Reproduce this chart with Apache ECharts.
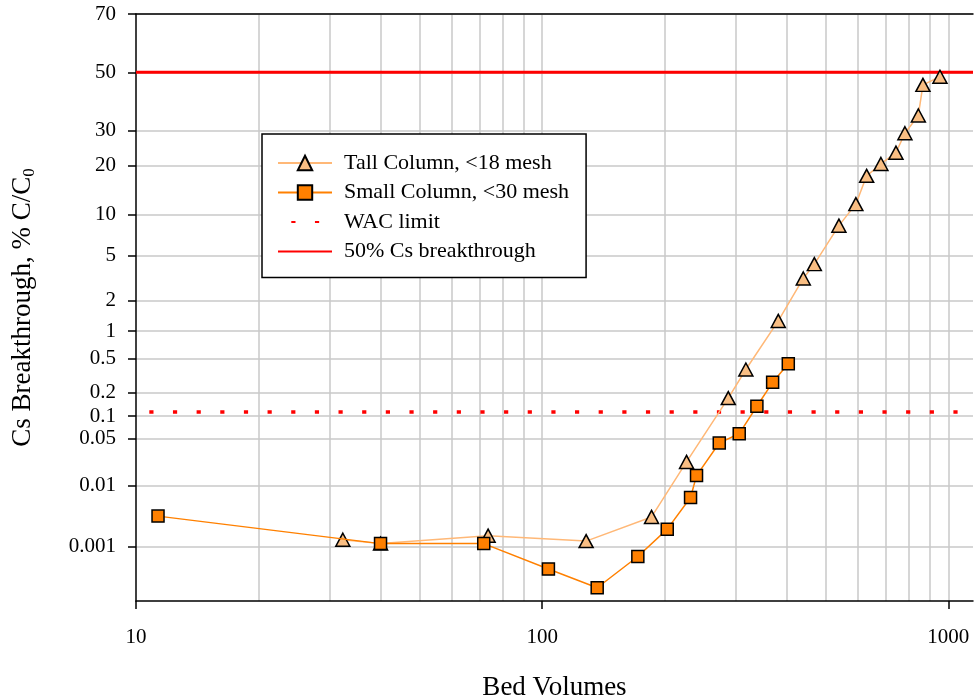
<!DOCTYPE html>
<html><head><meta charset="utf-8">
<script src="https://cdn.jsdelivr.net/npm/echarts@6/dist/echarts.min.js"></script>
<style>html,body{margin:0;padding:0;background:#fff}#c{width:974px;height:700px}</style>
</head><body><div id="c"></div>
<script>
// ---- data (bed volumes, % C/C0) ----
const tallX = [32.3, 40.0, 73.6, 128.3, 185.9, 226.7, 287.2, 317.3, 381.3, 439.4, 467.8, 537.7, 592.0, 629.3, 682.3, 743.0, 781.8, 843.6, 865.8, 953.5];
const tallY = [0.00132, 0.00113, 0.00155, 0.00125, 0.0032, 0.023, 0.17, 0.377, 1.27, 3.19, 4.23, 8.4, 11.8, 17.6, 20.5, 23.5, 29.2, 34.9, 45.5, 48.4];
const smallX = [11.33, 40.0, 71.8, 103.6, 136.6, 172.0, 203.2, 231.9, 239.9, 272.9, 305.6, 337.8, 369.3, 403.6];
const smallY = [0.0033, 0.00113, 0.00113, 0.000398, 0.000179, 0.00067, 0.0020, 0.0066, 0.0144, 0.043, 0.058, 0.134, 0.266, 0.44];
const wacLimit = 0.113;
const breakthrough = 50;
const xRange = [10, 1150];
const yRange = [0.0001, 70];
const xTickValues = [10, 100, 1000];
const xGridValues = [20, 30, 40, 50, 60, 70, 80, 90, 100, 200, 300, 400, 500, 600, 700, 800, 900, 1000];
const yTickValues = [70, 50, 30, 20, 10, 5, 2, 1, 0.5, 0.2, 0.1, 0.05, 0.01, 0.001];
const yTickLabels = ['70', '50', '30', '20', '10', '5', '2', '1', '0.5', '0.2', '0.1', '0.05', '0.01', '0.001'];
const names = ['Tall Column, <18 mesh', 'Small Column, <30 mesh', 'WAC limit', '50% Cs breakthrough'];

// ---- scale transforms: log10 for x, normal probability (probit) for y ----
function probit(p) {
  const a = [-3.969683028665376e+01, 2.209460984245205e+02, -2.759285104469687e+02, 1.383577518672690e+02, -3.066479806614716e+01, 2.506628277459239e+00];
  const b = [-5.447609879822406e+01, 1.615858368580409e+02, -1.556989798598866e+02, 6.680131188771972e+01, -1.328068155288572e+01];
  const c = [-7.784894002430293e-03, -3.223964580411365e-01, -2.400758277161838e+00, -2.549732539343734e+00, 4.374664141464968e+00, 2.938163982698783e+00];
  const d = [7.784695709041462e-03, 3.224671290700398e-01, 2.445134137142996e+00, 3.754408661907416e+00];
  const pl = 0.02425, ph = 1 - pl;
  let q, r;
  if (p < pl) { q = Math.sqrt(-2 * Math.log(p)); return (((((c[0]*q+c[1])*q+c[2])*q+c[3])*q+c[4])*q+c[5]) / ((((d[0]*q+d[1])*q+d[2])*q+d[3])*q+1); }
  if (p <= ph) { q = p - 0.5; r = q*q; return (((((a[0]*r+a[1])*r+a[2])*r+a[3])*r+a[4])*r+a[5])*q / (((((b[0]*r+b[1])*r+b[2])*r+b[3])*r+b[4])*r+1); }
  q = Math.sqrt(-2 * Math.log(1 - p)); return -(((((c[0]*q+c[1])*q+c[2])*q+c[3])*q+c[4])*q+c[5]) / ((((d[0]*q+d[1])*q+d[2])*q+d[3])*q+1);
}
const tx = v => Math.log10(v);
const ty = pct => probit(pct / 100);

const FONT = 'Liberation Serif';
const yTickZ = yTickValues.map(ty);
const axisBlack = { color: '#000', width: 1.5 };
const gridGray = { color: '#c8c8c8', width: 1.5 };

const chart = echarts.init(document.getElementById('c'), null, { renderer: 'canvas' });
chart.setOption({
  animation: false,
  backgroundColor: '#fff',
  grid: { left: 136, right: 1, top: 14, bottom: 99, outerBoundsMode: 'none', containLabel: false },
  legend: {
    orient: 'vertical', left: 262, top: 134,
    padding: [18, 17, 15, 15],
    itemWidth: 54, itemHeight: 18, itemGap: 7.5,
    backgroundColor: '#fff', borderColor: '#000', borderWidth: 1.5,
    textStyle: { fontFamily: FONT, fontSize: 22, color: '#000', padding: [0, 0, 0, 7] },
    data: [
      { name: names[0] },
      { name: names[1] },
      { name: names[2], itemStyle: { opacity: 0 } },
      { name: names[3], itemStyle: { opacity: 0 } }
    ]
  },
  xAxis: [{
    type: 'value', position: 'bottom', min: tx(xRange[0]), max: tx(xRange[1]),
    axisLine: { onZero: false, lineStyle: axisBlack },
    axisTick: { customValues: xTickValues.map(tx), length: 8, lineStyle: axisBlack },
    axisLabel: { customValues: xTickValues.map(tx), formatter: v => String(Math.round(Math.pow(10, v))), margin: 26, fontFamily: FONT, fontSize: 21, color: '#000' },
    splitLine: { show: false },
    name: 'Bed Volumes', nameLocation: 'middle', nameGap: 73,
    nameTextStyle: { fontFamily: FONT, fontSize: 27, color: '#000' }
  }, {
    type: 'value', position: 'top', min: tx(xRange[0]), max: tx(xRange[1]),
    axisLine: { show: true, onZero: false, lineStyle: axisBlack },
    axisTick: { show: false, customValues: xGridValues.map(tx) },
    axisLabel: { show: false },
    splitLine: { show: true, lineStyle: gridGray }
  }],
  yAxis: {
    type: 'value', min: ty(yRange[0]), max: ty(yRange[1]),
    axisLine: { show: true, onZero: false, lineStyle: axisBlack },
    axisTick: { customValues: yTickZ, length: 8, lineStyle: axisBlack },
    axisLabel: {
      customValues: yTickZ, margin: 20, fontFamily: FONT, fontSize: 21, color: '#000',
      formatter: v => { let best = 0; yTickZ.forEach((z, i) => { if (Math.abs(z - v) < Math.abs(yTickZ[best] - v)) best = i; }); return yTickLabels[best]; }
    },
    splitLine: { show: true, lineStyle: gridGray },
    name: 'Cs Breakthrough, % C/C{sub|0}', nameLocation: 'middle', nameRotate: 90, nameGap: 98,
    nameTextStyle: { fontFamily: FONT, fontSize: 27, color: '#000', lineHeight: 30,
      rich: { sub: { fontFamily: FONT, fontSize: 17, color: '#000', verticalAlign: 'bottom', lineHeight: 16 } } }
  },
  series: [{
    name: names[0], type: 'line', xAxisIndex: 0,
    data: tallX.map((x, i) => [tx(x), ty(tallY[i])]),
    symbol: 'triangle', symbolSize: [14, 13], showAllSymbol: true,
    lineStyle: { color: '#FFB877', width: 1.5 },
    itemStyle: { color: '#F9BE83', borderColor: '#000', borderWidth: 1.5 },
    z: 3
  }, {
    name: names[1], type: 'line', xAxisIndex: 0,
    data: smallX.map((x, i) => [tx(x), ty(smallY[i])]),
    symbol: 'rect', symbolSize: 12, showAllSymbol: true,
    lineStyle: { color: '#FF8000', width: 1.5 },
    itemStyle: { color: '#FF8000', borderColor: '#000', borderWidth: 1.5 },
    z: 4
  }, {
    name: names[2], type: 'line', xAxisIndex: 0,
    data: [[tx(xRange[0]), ty(wacLimit)], [tx(xRange[1]), ty(wacLimit)]],
    symbol: 'none',
    lineStyle: { color: '#FF0000', width: 3.5, type: [4.2, 19.45], dashOffset: 10.35, cap: 'butt' },
    itemStyle: { color: '#FF0000', opacity: 0 },
    z: 2
  }, {
    name: names[3], type: 'line', xAxisIndex: 0,
    data: [[tx(xRange[0]), ty(breakthrough)], [tx(xRange[1]), ty(breakthrough)]],
    symbol: 'none',
    lineStyle: { color: '#FF0000', width: 3 },
    itemStyle: { color: '#FF0000', opacity: 0 },
    z: 2
  }]
});
</script></body></html>
